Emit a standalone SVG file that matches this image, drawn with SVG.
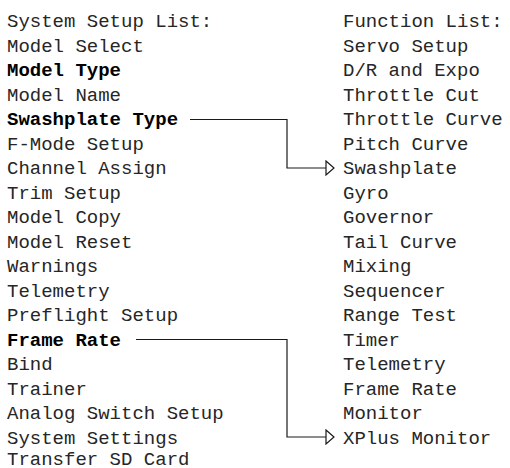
<svg xmlns="http://www.w3.org/2000/svg" width="510" height="468" viewBox="0 0 510 468">
<style>
text{font-family:"Liberation Mono","DejaVu Sans Mono",monospace;font-size:19px;fill:#262626}
.b{font-weight:bold;fill:#000}
.c{fill:none;stroke:#1a1a1a;stroke-width:1.2}
</style>
<defs>
<marker id="arr" viewBox="0 0 10 16" refX="9" refY="8" markerWidth="10" markerHeight="16" markerUnits="userSpaceOnUse" orient="auto">
<path d="M1,1 L9,8 L1,15 Z" fill="#fff" stroke="#1a1a1a" stroke-width="1.2"/>
</marker>
</defs>
<rect width="510" height="468" fill="#fff"/>
<g id="system-list">
<text x="7" y="27">System Setup List:</text>
<text x="7" y="51.5">Model Select</text>
<text x="7" y="76" class="b">Model Type</text>
<text x="7" y="100.5">Model Name</text>
<text x="7" y="125" class="b">Swashplate Type</text>
<text x="7" y="149.5">F-Mode Setup</text>
<text x="7" y="174">Channel Assign</text>
<text x="7" y="198.5">Trim Setup</text>
<text x="7" y="223">Model Copy</text>
<text x="7" y="247.5">Model Reset</text>
<text x="7" y="272">Warnings</text>
<text x="7" y="296.5">Telemetry</text>
<text x="7" y="321">Preflight Setup</text>
<text x="7" y="345.5" class="b">Frame Rate</text>
<text x="7" y="370">Bind</text>
<text x="7" y="394.5">Trainer</text>
<text x="7" y="419">Analog Switch Setup</text>
<text x="7" y="443.5">System Settings</text>
<text x="7" y="465">Transfer SD Card</text>
</g>
<g id="function-list">
<text x="343" y="27">Function List:</text>
<text x="343" y="51.5">Servo Setup</text>
<text x="343" y="76">D/R and Expo</text>
<text x="343" y="100.5">Throttle Cut</text>
<text x="343" y="125">Throttle Curve</text>
<text x="343" y="149.5">Pitch Curve</text>
<text x="343" y="174">Swashplate</text>
<text x="343" y="198.5">Gyro</text>
<text x="343" y="223">Governor</text>
<text x="343" y="247.5">Tail Curve</text>
<text x="343" y="272">Mixing</text>
<text x="343" y="296.5">Sequencer</text>
<text x="343" y="321">Range Test</text>
<text x="343" y="345.5">Timer</text>
<text x="343" y="370">Telemetry</text>
<text x="343" y="394.5">Frame Rate</text>
<text x="343" y="419">Monitor</text>
<text x="343" y="443.5">XPlus Monitor</text>
</g>
<g id="connectors">
<path class="c" d="M190,119.5 H287 V168 H334" marker-end="url(#arr)"/>
<path class="c" d="M136,339.5 H287 V437 H334" marker-end="url(#arr)"/>
</g>
</svg>
